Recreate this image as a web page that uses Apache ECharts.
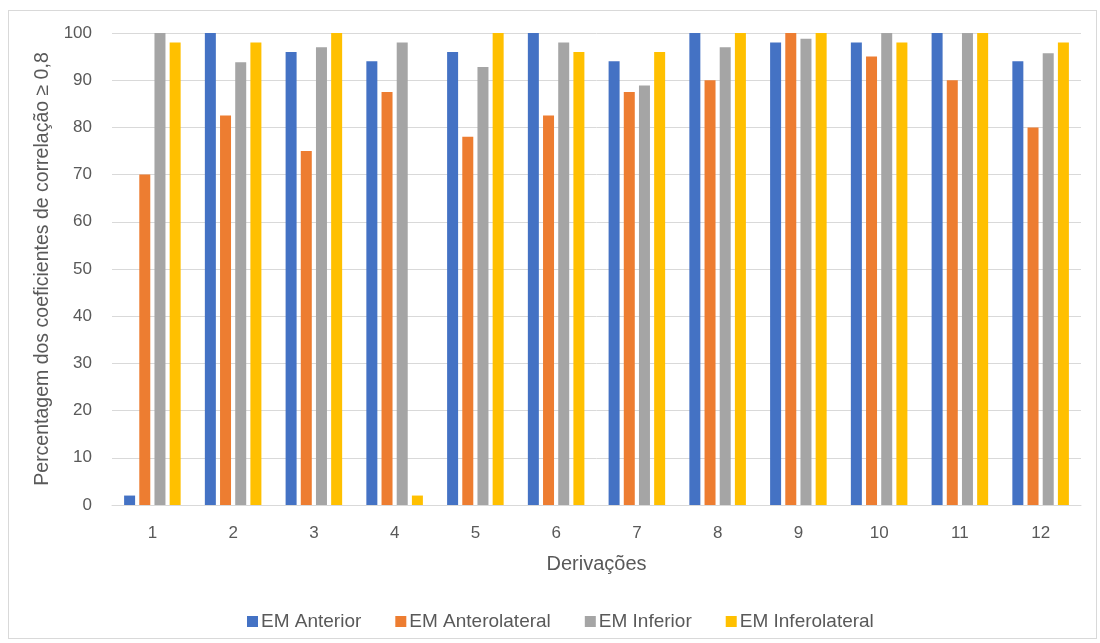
<!DOCTYPE html>
<html>
<head>
<meta charset="utf-8">
<script src="https://cdn.jsdelivr.net/npm/echarts@6/dist/echarts.min.js"></script>
<style>
  html, body { margin: 0; padding: 0; background: #fff; }
  #frame { position: absolute; left: 8px; top: 10px; width: 1089px; height: 629px; border: 1px solid #d9d9d9; box-sizing: border-box; }
  #chart { width: 1100px; height: 643px; }
</style>
</head>
<body>
<div id="frame"></div>
<div id="chart"></div>
<script>
const categories = ['1', '2', '3', '4', '5', '6', '7', '8', '9', '10', '11', '12'];
const seriesNames = ['EM Anterior', 'EM Anterolateral', 'EM Inferior', 'EM Inferolateral'];
const emAnterior = [2, 100, 96, 94, 96, 100, 94, 100, 98, 98, 100, 94];
const emAnterolateral = [70, 82.5, 75, 87.5, 78, 82.5, 87.5, 90, 100, 95, 90, 80];
const emInferior = [100, 93.8, 97, 98, 92.8, 98, 88.9, 97, 98.8, 100, 100, 95.7];
const emInferolateral = [98, 98, 100, 2, 100, 96, 96, 100, 100, 98, 100, 98];
const yTicks = [0, 10, 20, 30, 40, 50, 60, 70, 80, 90, 100];

const colors = ['#4472c4', '#ed7d31', '#a5a5a5', '#ffc000'];
const values = [emAnterior, emAnterolateral, emInferior, emInferolateral];

const chart = echarts.init(document.getElementById('chart'), null, { renderer: 'canvas' });
chart.setOption({
  animation: false,
  backgroundColor: 'transparent',
  textStyle: { fontFamily: 'Liberation Sans, Arial, sans-serif' },
  grid: { left: 112, right: 19, top: 33, bottom: 138, containLabel: false },
  legend: {
    top: 607,
    left: 242,
    itemWidth: 11,
    itemHeight: 11,
    itemGap: 34,
    icon: 'rect',
    textStyle: { color: '#595959', fontSize: 19, padding: [0, 0, 0, -2] },
    data: seriesNames
  },
  xAxis: {
    type: 'category',
    data: categories,
    name: 'Derivações',
    nameLocation: 'middle',
    nameGap: 49,
    nameTextStyle: { color: '#595959', fontSize: 20 },
    axisLine: { lineStyle: { color: '#d9d9d9', width: 1 } },
    axisTick: { show: false },
    axisLabel: { color: '#595959', fontSize: 17, margin: 20 }
  },
  yAxis: {
    type: 'value',
    min: yTicks[0],
    max: yTicks[yTicks.length - 1],
    interval: 10,
    name: 'Percentagem dos coeficientes de correlação ≥ 0,8',
    nameLocation: 'middle',
    nameGap: 58,
    nameTextStyle: { color: '#595959', fontSize: 19.5 },
    axisLine: { show: false },
    axisTick: { show: false },
    axisLabel: { color: '#595959', fontSize: 17, margin: 20 },
    splitLine: { lineStyle: { color: '#d9d9d9', width: 1 } }
  },
  series: values.map((v, i) => ({
    name: seriesNames[i],
    type: 'bar',
    data: v,
    barWidth: 11,
    barGap: '38%',
    itemStyle: { color: colors[i] }
  }))
});
</script>
</body>
</html>
